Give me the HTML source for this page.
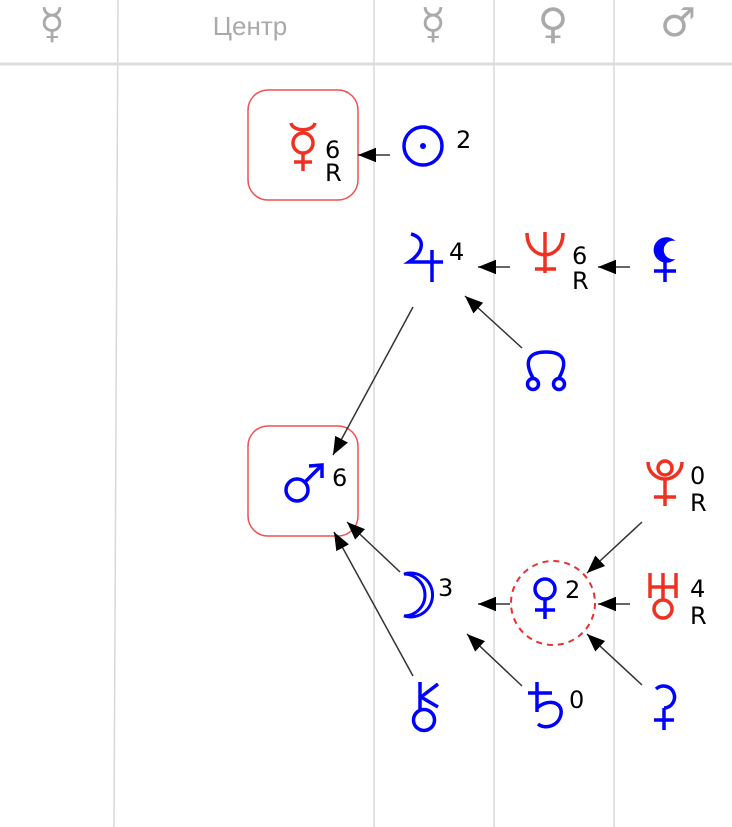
<!DOCTYPE html>
<html><head><meta charset="utf-8"><style>
html,body{margin:0;padding:0;background:#fff;}
svg{display:block;}
.g{font-family:"DejaVu Sans",sans-serif;text-anchor:middle;}
.n{font-family:"DejaVu Sans","Liberation Sans",sans-serif;font-size:24px;fill:#000;}
</style></head><body>
<svg width="732" height="827" viewBox="0 0 732 827" xmlns="http://www.w3.org/2000/svg">
<defs>
<marker id="m" viewBox="0 0 10 10" refX="10" refY="5" markerWidth="18" markerHeight="18" orient="auto" markerUnits="userSpaceOnUse"><path d="M0,1 L10,5 L0,9 z" fill="#000"/></marker></defs>
<g stroke="#d8d8d8" stroke-width="1.5">
<line x1="118" y1="0" x2="114" y2="827"/>
<line x1="374" y1="0" x2="374" y2="827"/>
<line x1="494" y1="0" x2="494" y2="827"/>
<line x1="614" y1="0" x2="614" y2="827"/>
</g>
<line x1="0" y1="64" x2="732" y2="64" stroke="#ddd" stroke-width="3"/>
<g fill="#aaa">
<text x="52" y="38" class="g" font-size="42">☿</text>
<text x="250" y="35" font-family="Liberation Sans,sans-serif" font-size="26" text-anchor="middle">Центр</text>
<text x="433" y="38" class="g" font-size="42">☿</text>
<text x="553" y="38" class="g" font-size="42">♀</text>
<text x="678" y="36" class="g" font-size="40">♂</text>
</g>
<rect x="248" y="90" width="110" height="110" rx="20" fill="none" stroke="#f05050" stroke-width="1.5"/>
<rect x="248" y="426" width="110" height="110" rx="20" fill="none" stroke="#f05050" stroke-width="1.5"/>
<circle cx="553" cy="603" r="42" fill="none" stroke="#e83030" stroke-width="2" stroke-dasharray="6,5"/>
<g stroke="#333" stroke-width="1.5" fill="none">
<line x1="390" y1="155" x2="358" y2="155" marker-end="url(#m)"/>
<line x1="510" y1="267" x2="478" y2="267" marker-end="url(#m)"/>
<line x1="630" y1="267" x2="598" y2="267" marker-end="url(#m)"/>
<line x1="522" y1="348" x2="465" y2="296" marker-end="url(#m)"/>
<line x1="413" y1="307" x2="333" y2="455" marker-end="url(#m)"/>
<line x1="400" y1="572" x2="347" y2="522" marker-end="url(#m)"/>
<line x1="413" y1="676" x2="334" y2="532" marker-end="url(#m)"/>
<line x1="510" y1="604" x2="478" y2="604" marker-end="url(#m)"/>
<line x1="642" y1="522" x2="587" y2="573" marker-end="url(#m)"/>
<line x1="630" y1="604" x2="598" y2="604" marker-end="url(#m)"/>
<line x1="642" y1="685" x2="587" y2="634" marker-end="url(#m)"/>
<line x1="522" y1="686" x2="467" y2="634" marker-end="url(#m)"/>
</g>
<!-- red glyphs -->
<g stroke="#f03020" stroke-width="3.5" fill="none">
<!-- Mercury -->
<path d="M291,123 C293,132 313,132 315,123"/>
<circle cx="303" cy="143" r="10"/>
<line x1="303" y1="153" x2="303" y2="171"/><line x1="294" y1="162" x2="312" y2="162"/>
<!-- Neptune -->
<path d="M527,233 C527,262 563,262 563,233"/>
<line x1="545" y1="232" x2="545" y2="273"/><line x1="535" y1="269" x2="556" y2="269"/>
<!-- Pluto -->
<circle cx="665" cy="468" r="7"/>
<path d="M648,462 A17,17 0 0 0 682,462"/>
<line x1="665" y1="479" x2="665" y2="506"/><line x1="654" y1="497" x2="676" y2="497"/>
<!-- Uranus -->
<line x1="650" y1="573" x2="650" y2="598"/><line x1="676" y1="573" x2="676" y2="598"/>
<line x1="650" y1="587" x2="676" y2="587"/><line x1="663" y1="573" x2="663" y2="599"/>
<circle cx="663" cy="609" r="9"/>
</g>
<!-- blue glyphs -->
<g stroke="#0000ff" stroke-width="3.5" fill="none">
<!-- Sun -->
<circle cx="423" cy="146" r="19"/>
<!-- Jupiter -->
<path d="M411,234 C426,238 424,252 409,262 L443,262"/>
<line x1="432" y1="250" x2="432" y2="282"/>
<!-- Lilith cross -->
<line x1="665" y1="259" x2="665" y2="282"/><line x1="654" y1="271" x2="676" y2="271"/>
<!-- Node -->
<path d="M533,378 C522,358 532,352 546,352 C560,352 570,358 559,378"/>
<circle cx="533" cy="384" r="5.5"/><circle cx="559" cy="384" r="5.5"/>
<!-- Mars -->
<circle cx="297" cy="490" r="11"/>
<line x1="305" y1="482" x2="321" y2="466"/>
<path d="M309,466 L322,465 L322,478"/>
<!-- Moon -->
<path d="M404,574 A22,22 0 1 1 404,616 A17,17 0 1 0 404,574 z" stroke-width="3"/>
<!-- Venus -->
<circle cx="545" cy="589" r="10"/>
<line x1="545" y1="599" x2="545" y2="619"/><line x1="535" y1="610" x2="555" y2="610"/>
<!-- Chiron -->
<circle cx="424" cy="720" r="10.5"/>
<line x1="420" y1="682" x2="420" y2="709"/>
<path d="M438,684 L421,697 L438,707"/>
<!-- Saturn -->
<line x1="537" y1="682" x2="537" y2="712"/><line x1="528" y1="693" x2="552" y2="693"/>
<path d="M537,708 C548,698 563,702 561,714 C559,726 545,730 538,724"/>
<!-- bottom right -->
<path d="M656,689 A11,11 0 1 1 664,708"/>
<line x1="664" y1="708" x2="664" y2="730"/><line x1="654" y1="720" x2="674" y2="720"/>
</g>
<circle cx="423" cy="146" r="3" fill="#0000ff"/>
<path d="M673,240 A12,12 0 1 0 673,260 A8,8 0 1 1 673,240 z" fill="#0000ff" stroke="#0000ff" stroke-width="1.5"/>
<!-- numbers -->
<text x="325" y="158" class="n">6</text><text x="325" y="181" class="n">R</text>
<text x="456" y="148" class="n">2</text>
<text x="449" y="260" class="n">4</text>
<text x="572" y="264" class="n">6</text><text x="572" y="289" class="n">R</text>
<text x="332" y="486" class="n">6</text>
<text x="690" y="484" class="n">0</text><text x="690" y="511" class="n">R</text>
<text x="438" y="596" class="n">3</text>
<text x="565" y="598" class="n">2</text>
<text x="690" y="597" class="n">4</text><text x="690" y="624" class="n">R</text>
<text x="569" y="708" class="n">0</text>
</svg>
</body></html>
